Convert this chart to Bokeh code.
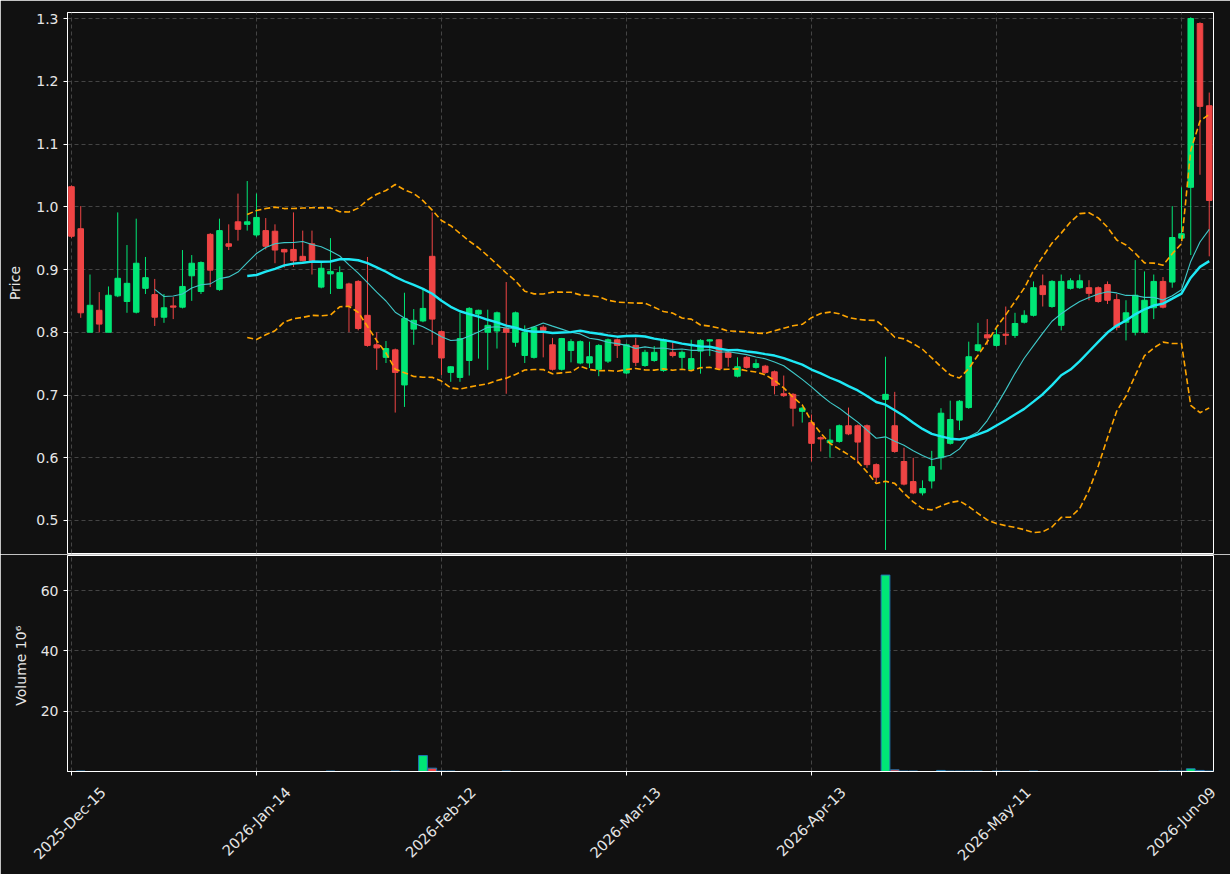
import math
import pandas as pd
from bokeh.plotting import figure
from bokeh.layouts import column
from bokeh.models import ColumnDataSource, FixedTicker, Range1d, PrintfTickFormatter
from bokeh.embed import file_html
from bokeh.resources import INLINE

# ---- data ----
opens = [1.032, 0.965, 0.800, 0.835, 0.800, 0.858, 0.849, 0.832, 0.870, 0.860,
         0.824, 0.842, 0.840, 0.890, 0.865, 0.956, 0.868, 0.941, 0.976, 0.972,
         0.955, 0.962, 0.961, 0.932, 0.932, 0.921, 0.941, 0.872, 0.893, 0.870,
         0.877, 0.881, 0.827, 0.780, 0.760, 0.772, 0.716, 0.805, 0.818, 0.921,
         0.801, 0.736, 0.728, 0.755, 0.829, 0.800, 0.802, 0.806, 0.784, 0.763,
         0.760, 0.808, 0.780, 0.741, 0.771, 0.751, 0.751, 0.741, 0.754, 0.788,
         0.735, 0.779, 0.747, 0.755, 0.739, 0.768, 0.760, 0.741, 0.770, 0.786,
         0.788, 0.768, 0.730, 0.760, 0.744, 0.746, 0.737, 0.702, 0.701, 0.674,
         0.656, 0.632, 0.624, 0.626, 0.651, 0.651, 0.651, 0.589, 0.693, 0.651,
         0.594, 0.562, 0.544, 0.563, 0.600, 0.623, 0.660, 0.680, 0.771, 0.796,
         0.779, 0.797, 0.795, 0.816, 0.827, 0.874, 0.841, 0.811, 0.870, 0.871,
         0.871, 0.871, 0.876, 0.852, 0.816, 0.800, 0.800, 0.839, 0.881, 0.880,
         0.950, 1.031, 1.292, 1.161]
highs = [1.034, 1.001, 0.892, 0.864, 0.873, 0.991, 0.939, 0.981, 0.920, 0.885,
         0.861, 0.856, 0.931, 0.923, 0.913, 0.958, 0.981, 0.972, 1.021, 1.041,
         1.021, 0.982, 0.972, 0.933, 0.991, 0.962, 0.962, 0.911, 0.950, 0.905,
         0.879, 0.883, 0.920, 0.800, 0.786, 0.774, 0.863, 0.837, 0.869, 0.991,
         0.803, 0.746, 0.831, 0.840, 0.836, 0.836, 0.833, 0.880, 0.833, 0.811,
         0.810, 0.811, 0.791, 0.791, 0.789, 0.787, 0.785, 0.781, 0.790, 0.790,
         0.782, 0.791, 0.772, 0.778, 0.790, 0.784, 0.771, 0.788, 0.789, 0.789,
         0.789, 0.770, 0.760, 0.762, 0.757, 0.748, 0.739, 0.731, 0.703, 0.681,
         0.669, 0.634, 0.646, 0.653, 0.680, 0.653, 0.653, 0.591, 0.761, 0.705,
         0.616, 0.600, 0.564, 0.611, 0.679, 0.691, 0.692, 0.785, 0.815, 0.821,
         0.806, 0.841, 0.831, 0.835, 0.881, 0.892, 0.883, 0.892, 0.886, 0.892,
         0.883, 0.873, 0.881, 0.861, 0.851, 0.915, 0.897, 0.892, 0.888, 1.001,
         1.031, 1.302, 1.294, 1.182]
lows = [0.950, 0.823, 0.800, 0.800, 0.800, 0.856, 0.831, 0.830, 0.861, 0.810,
        0.815, 0.821, 0.838, 0.850, 0.861, 0.872, 0.866, 0.931, 0.946, 0.962,
        0.952, 0.932, 0.910, 0.903, 0.904, 0.913, 0.892, 0.870, 0.861, 0.869,
        0.800, 0.803, 0.777, 0.740, 0.751, 0.672, 0.681, 0.780, 0.816, 0.780,
        0.732, 0.721, 0.721, 0.731, 0.758, 0.740, 0.774, 0.702, 0.777, 0.751,
        0.758, 0.760, 0.739, 0.739, 0.752, 0.749, 0.743, 0.730, 0.751, 0.759,
        0.733, 0.746, 0.745, 0.753, 0.737, 0.760, 0.742, 0.739, 0.734, 0.762,
        0.740, 0.745, 0.728, 0.742, 0.742, 0.734, 0.701, 0.697, 0.650, 0.656,
        0.594, 0.610, 0.600, 0.624, 0.636, 0.591, 0.584, 0.561, 0.453, 0.608,
        0.556, 0.542, 0.540, 0.551, 0.581, 0.621, 0.644, 0.678, 0.769, 0.780,
        0.777, 0.780, 0.791, 0.814, 0.825, 0.841, 0.839, 0.803, 0.868, 0.869,
        0.851, 0.847, 0.845, 0.803, 0.787, 0.795, 0.798, 0.821, 0.838, 0.871,
        0.948, 0.923, 1.051, 0.921]
closes = [0.953, 0.831, 0.843, 0.813, 0.859, 0.886, 0.878, 0.910, 0.887, 0.824,
          0.839, 0.840, 0.873, 0.910, 0.911, 0.899, 0.962, 0.937, 0.964, 0.976,
          0.983, 0.937, 0.931, 0.928, 0.914, 0.914, 0.914, 0.902, 0.897, 0.895,
          0.842, 0.806, 0.779, 0.775, 0.774, 0.736, 0.822, 0.819, 0.838, 0.821,
          0.759, 0.745, 0.790, 0.838, 0.835, 0.811, 0.831, 0.800, 0.831, 0.800,
          0.808, 0.803, 0.741, 0.790, 0.785, 0.785, 0.761, 0.779, 0.788, 0.779,
          0.780, 0.752, 0.768, 0.768, 0.788, 0.763, 0.768, 0.758, 0.787, 0.788,
          0.742, 0.760, 0.745, 0.744, 0.750, 0.736, 0.715, 0.699, 0.679, 0.679,
          0.623, 0.630, 0.628, 0.651, 0.638, 0.625, 0.589, 0.569, 0.701, 0.610,
          0.558, 0.544, 0.551, 0.586, 0.671, 0.661, 0.690, 0.761, 0.780, 0.791,
          0.796, 0.795, 0.814, 0.827, 0.871, 0.860, 0.881, 0.881, 0.882, 0.882,
          0.862, 0.849, 0.851, 0.808, 0.831, 0.859, 0.851, 0.881, 0.840, 0.951,
          0.957, 1.300, 1.160, 1.010]
# volume in millions
volumes = [0, 0.15, 0, 0, 0, 0, 0, 0, 0, 0,
           0, 0, 0, 0, 0, 0, 0, 0, 0, 0,
           0, 0, 0, 0, 0, 0, 0, 0, 0.15, 0,
           0, 0, 0, 0, 0, 0.15, 0, 0, 5.3, 1.1,
           0.15, 0.15, 0, 0, 0, 0, 0, 0.15, 0, 0,
           0, 0, 0, 0, 0, 0, 0, 0, 0, 0,
           0, 0, 0, 0, 0, 0, 0, 0, 0, 0,
           0, 0, 0, 0, 0, 0, 0, 0, 0, 0,
           0, 0, 0, 0, 0, 0, 0, 0, 65.2, 0.55,
           0.15, 0.15, 0, 0, 0.35, 0.15, 0.15, 0.15, 0.15, 0,
           0.15, 0.15, 0, 0, 0.15, 0, 0, 0, 0, 0,
           0, 0, 0, 0, 0, 0, 0, 0, 0.15, 0.15,
           0.15, 0.9, 0.35, 0.15]
tick_positions = [0, 20, 40, 60, 80, 100, 120]
tick_labels = ["2025-Dec-15", "2026-Jan-14", "2026-Feb-12", "2026-Mar-13",
               "2026-Apr-13", "2026-May-11", "2026-Jun-09"]
price_ticks = [0.5, 0.6, 0.7, 0.8, 0.9, 1.0, 1.1, 1.2, 1.3]
volume_ticks = [20, 40, 60]

# ---- styling ----
BG = "#111111"
UP = "#00e676"
DOWN = "#ef4444"
TXT = "#e6e6e6"
FONT = "DejaVu Sans"
X_END = 123.46
LABEL_SHIFT = 3.4   # rotated labels: Bokeh anchors their end, the reference centres them

n = len(closes)
df = pd.DataFrame(dict(x=list(range(n)), open=opens, high=highs, low=lows,
                       close=closes, vol=volumes))
df["top"] = df[["open", "close"]].max(axis=1)
df["bottom"] = df[["open", "close"]].min(axis=1)
df["color"] = [UP if c >= o else DOWN for o, c in zip(df.open, df.close)]
df["ma10"] = df.close.rolling(10).mean()
df["ma20"] = df.close.rolling(20).mean()
sd = df.close.rolling(20).std(ddof=0)
df["upper"] = df.ma20 + 2 * sd
df["lower"] = df.ma20 - 2 * sd

src = ColumnDataSource(df)
vsrc = ColumnDataSource(df[df.vol > 0].reset_index(drop=True))

x_range = Range1d(-0.43, X_END)


def style(p):
    p.background_fill_color = BG
    p.border_fill_color = BG
    p.outline_line_color = "white"
    p.outline_line_width = 1
    for ax in p.axis:
        ax.axis_line_color = "white"
        ax.major_tick_line_color = "white"
        ax.major_tick_out = 4
        ax.major_tick_in = 0
        ax.minor_tick_line_color = None
        ax.major_label_text_color = TXT
        ax.major_label_text_font = FONT
        ax.major_label_text_font_size = "14px"
        ax.axis_label_text_color = TXT
        ax.axis_label_text_font = FONT
        ax.axis_label_text_font_size = "14px"
        ax.axis_label_text_font_style = "normal"
        ax.major_label_standoff = 5
    for g in p.grid:
        g.grid_line_color = "#444444"
        g.grid_line_dash = "4 3"
        g.grid_line_width = 1


xt = FixedTicker(ticks=tick_positions)

# ---- price panel ----
p1 = figure(width=1230, height=554, x_range=x_range,
            y_range=Range1d(0.4474, 1.3096),
            output_backend="svg", toolbar_location=None,
            min_border_left=67, min_border_right=17,
            min_border_top=12, min_border_bottom=1)
p1.xaxis.ticker = xt
p1.xgrid.ticker = xt
p1.xaxis.visible = False
yt = FixedTicker(ticks=price_ticks)
p1.yaxis.ticker = yt
p1.ygrid.ticker = yt
p1.yaxis.formatter = PrintfTickFormatter(format="%.1f")
p1.yaxis.axis_label = "Price"
style(p1)
p1.yaxis.axis_label_standoff = 10

p1.segment(x0="x", y0="low", x1="x", y1="high", color="color", line_width=1, source=src)
p1.vbar(x="x", width=0.6, top="top", bottom="bottom", fill_color="color",
        line_color="color", line_width=1, source=src)
p1.line("x", "upper", source=src, color="orange", line_width=1.6, line_dash="6 3")
p1.line("x", "lower", source=src, color="orange", line_width=1.6, line_dash="6 3")
p1.line("x", "ma10", source=src, color="#3fc9c9", line_width=1.1)
p1.line("x", "ma20", source=src, color="#1ee8f5", line_width=2.4)

# ---- volume panel ----
p2 = figure(width=1230, height=320, x_range=x_range,
            y_range=Range1d(0, 71.7),
            output_backend="svg", toolbar_location=None,
            min_border_left=67, min_border_right=17,
            min_border_top=1, min_border_bottom=103)
vt = FixedTicker(ticks=volume_ticks)
p2.yaxis.ticker = vt
p2.ygrid.ticker = vt
p2.yaxis.axis_label = "Volume  10\u2076"
style(p2)
p2.yaxis.axis_label_standoff = 9

# date axis: labels sit on shifted major ticks (hidden marks), the visible
# tick marks are the minor ticks at the real dates
label_ticks = [t + LABEL_SHIFT for t in tick_positions]
p2.xaxis.ticker = FixedTicker(ticks=label_ticks, minor_ticks=tick_positions)
p2.xgrid.ticker = xt
p2.xaxis.major_label_overrides = {t: lab for t, lab in zip(label_ticks, tick_labels)}
p2.xaxis.major_label_orientation = math.pi / 4
p2.xaxis.major_label_text_font_size = "14.6px"
p2.xaxis.major_tick_line_color = None
p2.xaxis.major_tick_out = 0
p2.xaxis.major_label_standoff = 14
p2.xaxis.minor_tick_line_color = "white"
p2.xaxis.minor_tick_out = 4
p2.xaxis.minor_tick_in = 0

p2.vbar(x="x", width=0.95, top="vol", bottom=0, fill_color="color",
        line_color="#1f77b4", line_width=1, source=vsrc)

layout = column(p1, p2, spacing=0)
open("out.html", "w").write(file_html(layout, INLINE))
